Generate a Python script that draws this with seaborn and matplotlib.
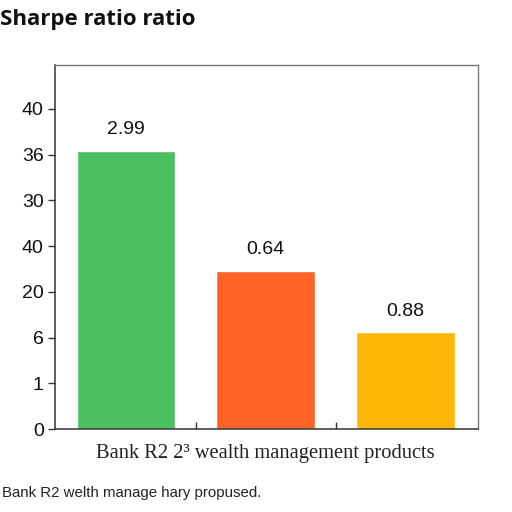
import matplotlib
matplotlib.use("Agg")
import matplotlib.pyplot as plt
import pandas as pd
import seaborn as sns

# bar data (heights in axis units, labels as printed on the chart)
products = ["Product A", "Product B", "Product C"]
bar_heights = [6.09, 3.46, 2.12]
bar_labels = ["2.99", "0.64", "0.88"]
bar_colors = ["#4CBF60", "#FF6327", "#FFB70A"]

# y tick labels as printed (evenly spaced)
ytick_pos = [0, 1, 2, 3, 4, 5, 6, 7]
ytick_labels = ["0", "1", "6", "20", "40", "30", "36", "40"]

sns.set_theme(style="white")
plt.rcParams["font.family"] = ["Liberation Sans", "DejaVu Sans"]

df = pd.DataFrame({"product": products, "value": bar_heights})

fig = plt.figure(figsize=(5.12, 5.12), dpi=100)
ax = fig.add_axes([0.107, 0.162, 0.827, 0.711])

sns.barplot(
    df,
    x="product",
    y="value",
    hue="product",
    palette=bar_colors,
    width=0.706,
    saturation=1,
    legend=False,
    ax=ax,
)

for i, (h, lab) in enumerate(zip(bar_heights, bar_labels)):
    ax.text(i, h + 0.27, lab, ha="center", va="bottom", fontsize=14, color="#111111")

ax.set_xlim(-0.51, 2.52)
ax.set_ylim(0, 7.96)
ax.set_yticks(ytick_pos)
ax.set_yticklabels(ytick_labels, fontsize=14, color="#111111")
ax.set_xticks([0.5, 1.5])
ax.set_xticklabels([])
ax.tick_params(axis="y", direction="out", length=5, width=1, color="#333333", left=True, pad=3)
ax.tick_params(axis="x", direction="in", length=5, width=1, color="#333333", bottom=True)
ax.set_ylabel("")
ax.set_xlabel("")

for side in ["left", "bottom"]:
    ax.spines[side].set_color("#333333")
    ax.spines[side].set_linewidth(1.1)
for side in ["top", "right"]:
    ax.spines[side].set_color("#777777")
    ax.spines[side].set_linewidth(1.0)

fig.text(0.0, 0.962, "Sharpe ratio ratio", fontsize=16, fontweight="bold",
         family=["Open Sans", "DejaVu Sans"], ha="left", va="center", color="#111111")
fig.text(0.518, 0.115, "Bank R2 2\u00b3 wealth management products", fontsize=14.8,
         family=["Liberation Serif", "DejaVu Serif"], ha="center", va="center", color="#222222")
fig.text(0.004, 0.037, "Bank R2 welth manage hary propused.", fontsize=10.8,
         ha="left", va="center", color="#222222")

fig.savefig("out.png", dpi=100)
